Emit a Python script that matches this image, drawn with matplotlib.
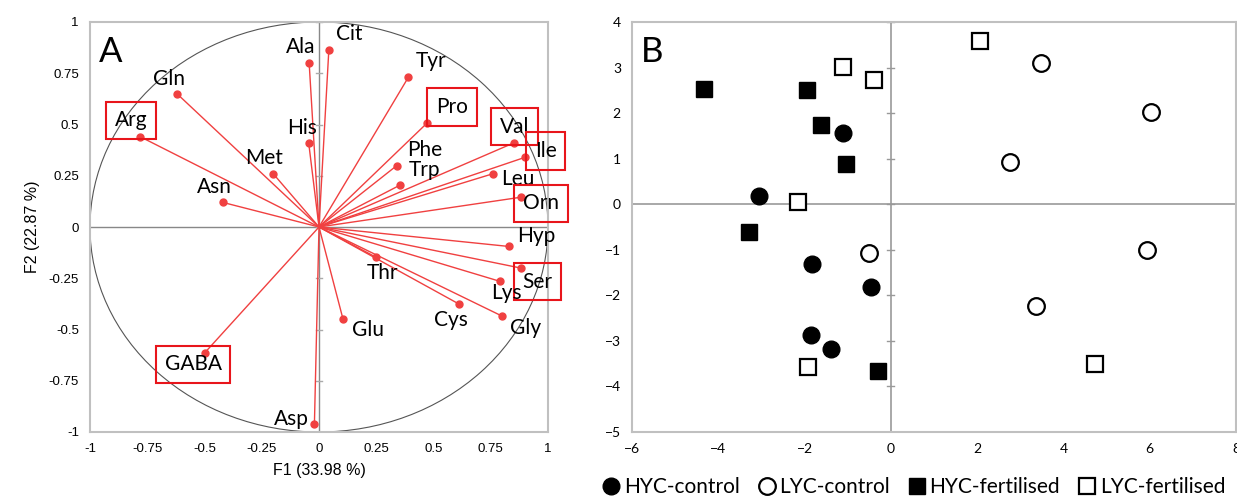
import numpy as np
import matplotlib.pyplot as plt
from matplotlib.patches import Ellipse
from matplotlib.lines import Line2D

# Panel A: correlation circle (F1 x F2 loadings)
amino = ['Arg', 'Gln', 'Asn', 'Met', 'His', 'Ala', 'Cit', 'Tyr', 'Pro', 'Phe', 'Trp', 'Val',
         'Ile', 'Leu', 'Orn', 'Hyp', 'Ser', 'Lys', 'Gly', 'Cys', 'Thr', 'Glu', 'GABA', 'Asp']
f1 = [-0.78, -0.62, -0.42, -0.20, -0.045, -0.043, 0.043, 0.39, 0.47, 0.34, 0.355, 0.85,
      0.90, 0.76, 0.88, 0.83, 0.88, 0.79, 0.80, 0.61, 0.25, 0.105, -0.50, -0.02]
f2 = [0.44, 0.65, 0.12, 0.26, 0.41, 0.80, 0.865, 0.73, 0.505, 0.30, 0.205, 0.41,
      0.34, 0.26, 0.145, -0.095, -0.20, -0.265, -0.435, -0.375, -0.148, -0.45, -0.615, -0.96]
boxed = ['Arg', 'Pro', 'Val', 'Ile', 'Orn', 'Ser', 'GABA']

# Panel B: observations
hyc_ctrl_x = [-1.10, -3.05, -1.82, -0.47, -1.85, -1.39]
hyc_ctrl_y = [1.56, 0.19, -1.31, -1.82, -2.86, -3.17]
lyc_ctrl_x = [3.48, 6.04, 2.75, -0.51, 5.93, 3.36]
lyc_ctrl_y = [3.09, 2.02, 0.93, -1.07, -1.01, -2.23]
hyc_fert_x = [-4.34, -1.94, -1.61, -1.03, -3.29, -0.29]
hyc_fert_y = [2.52, 2.51, 1.74, 0.88, -0.615, -3.67]
lyc_fert_x = [2.07, -1.10, -0.40, -2.15, -1.93, 4.74]
lyc_fert_y = [3.59, 3.02, 2.73, 0.04, -3.57, -3.51]

# label offsets from the arrow tips (data units)
offs = {'Arg': (-0.04, 0.08), 'Gln': (-0.035, 0.073), 'Asn': (-0.037, 0.075),
        'Met': (-0.04, 0.075), 'His': (-0.03, 0.075), 'Ala': (-0.035, 0.077),
        'Cit': (0.09, 0.075), 'Tyr': (0.10, 0.08), 'Pro': (0.11, 0.08),
        'Phe': (0.12, 0.078), 'Trp': (0.105, 0.075), 'Val': (0.005, 0.08),
        'Ile': (0.09, 0.03), 'Leu': (0.11, -0.026), 'Orn': (0.09, -0.03),
        'Hyp': (0.12, 0.05), 'Ser': (0.075, -0.067), 'Lys': (0.03, -0.056),
        'Gly': (0.10, -0.057), 'Cys': (-0.035, -0.078), 'Thr': (0.027, -0.077),
        'Glu': (0.108, -0.052), 'GABA': (-0.05, -0.055), 'Asp': (-0.10, 0.025)}

red = '#f04040'
frame = '#c0c0c0'
lab_font = ['Lato', 'DejaVu Sans']

fig = plt.figure(figsize=(12.37, 4.97), dpi=100)
axA = fig.add_axes([90/1237, 65/497, 458/1237, 410/497])
axB = fig.add_axes([632/1237, 65/497, 604/1237, 410/497])


def style_frame(ax):
    for s in ax.spines.values():
        s.set_color(frame)
        s.set_linewidth(1.5)
    ax.tick_params(length=0, pad=8)


# ---- panel A
style_frame(axA)
axA.set_xlim(-1, 1)
axA.set_ylim(-1, 1)
axA.axhline(0, color='#888888', lw=1, zorder=1)
axA.axvline(0, color='#888888', lw=1, zorder=1)
for t in np.arange(-1, 1.01, 0.25):
    axA.plot([-0.012, 0.012], [t, t], color='#aaaaaa', lw=1, zorder=1)
axA.add_patch(Ellipse((0, 0), 2, 2, fill=False, ec='#555555', lw=0.8, zorder=1))
for name, x, y in zip(amino, f1, f2):
    axA.plot([0, x], [0, y], color=red, lw=1, zorder=2)
    axA.plot(x, y, 'o', color=red, ms=5, zorder=3)
    dx, dy = offs[name]
    bb = None
    if name in boxed:
        bb = dict(boxstyle='square,pad=0.42', fc='none', ec='#e8151b', lw=1.5)
    axA.text(x + dx, y + dy, name, ha='center', va='center', fontsize=15,
             family=lab_font, bbox=bb, zorder=4, clip_on=False)
ticks = [-1, -0.75, -0.5, -0.25, 0, 0.25, 0.5, 0.75, 1]
ticklabs = ['-1', '-0.75', '-0.5', '-0.25', '0', '0.25', '0.5', '0.75', '1']
axA.set_xticks(ticks)
axA.set_xticklabels(ticklabs, family='Liberation Sans', fontsize=9.5)
axA.set_yticks(ticks)
axA.set_yticklabels(ticklabs, family='Liberation Sans', fontsize=9.5)
axA.set_xlabel('F1 (33.98 %)', family='Liberation Sans', fontsize=11.5, labelpad=6)
axA.set_ylabel('F2 (22.87 %)', family='Liberation Sans', fontsize=11.5, labelpad=6)
axA.text(0.02, 0.965, 'A', transform=axA.transAxes, fontsize=25, family=lab_font,
         va='top', ha='left')

# ---- panel B
style_frame(axB)
axB.set_xlim(-6, 8)
axB.set_ylim(-5, 4)
axB.axhline(0, color='#999999', lw=1.2, zorder=1)
axB.axvline(0, color='#999999', lw=1.2, zorder=1)
for t in range(-5, 5):
    axB.plot([-0.08, 0.08], [t, t], color='#999999', lw=1, zorder=1)
axB.plot(hyc_ctrl_x, hyc_ctrl_y, 'o', color='black', ms=12, ls='none', zorder=3)
axB.plot(lyc_ctrl_x, lyc_ctrl_y, 'o', mfc='white', mec='black', mew=1.6, ms=12, ls='none', zorder=3)
axB.plot(hyc_fert_x, hyc_fert_y, 's', color='black', ms=11, ls='none', zorder=3)
axB.plot(lyc_fert_x, lyc_fert_y, 's', mfc='white', mec='black', mew=1.6, ms=11, ls='none', zorder=3)
axB.set_xticks(range(-6, 9, 2))
axB.set_yticks(range(-5, 5))
for lab in axB.get_xticklabels() + axB.get_yticklabels():
    lab.set_family(lab_font)
    lab.set_fontsize(10)
axB.text(0.015, 0.965, 'B', transform=axB.transAxes, fontsize=25, family=lab_font,
         va='top', ha='left')

handles = [Line2D([], [], marker='o', color='black', ls='none', ms=12),
           Line2D([], [], marker='o', mfc='white', mec='black', mew=1.6, ls='none', ms=12),
           Line2D([], [], marker='s', color='black', ls='none', ms=12),
           Line2D([], [], marker='s', mfc='white', mec='black', mew=1.6, ls='none', ms=12)]
fig.legend(handles, ['HYC-control', 'LYC-control', 'HYC-fertilised', 'LYC-fertilised'],
           loc='center', bbox_to_anchor=(912/1237, 10/497), ncol=4, frameon=False,
           prop={'family': lab_font, 'size': 15}, handletextpad=0.0, columnspacing=0.7,
           handlelength=1.2, borderaxespad=0)

fig.savefig('out.png', dpi=100)
